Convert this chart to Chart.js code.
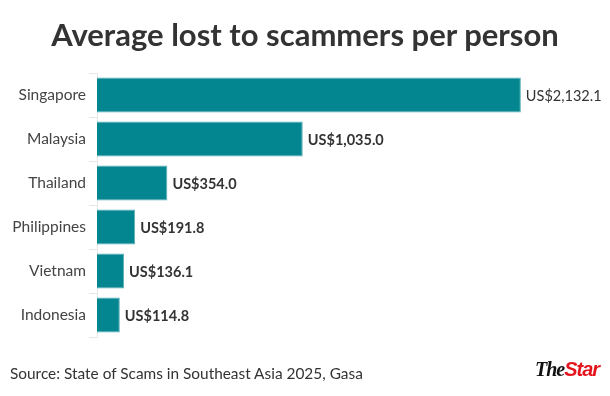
<!DOCTYPE html>
<html>
<head>
<meta charset="utf-8">
<script src="https://cdn.jsdelivr.net/npm/chart.js@4"></script>
<style>
    html, body { margin: 0; padding: 0; background: #fff; }
    #wrap { position: relative; width: 610px; height: 396px; overflow: hidden; }
    #chart { position: absolute; left: 0; top: 0; }
    .title {
        position: absolute; left: 0; top: 15px; width: 610px; text-align: center;
        font-family: Lato, sans-serif; font-weight: bold; font-size: 31px; color: #333;
    }
    .source {
        position: absolute; left: 10px; top: 364px;
        font-family: Lato, sans-serif; font-size: 15.4px; color: #333;
    }
    .logo { position: absolute; left: 535px; top: 358px; font-size: 20px; white-space: nowrap; letter-spacing: -1px; }
    .logo .the { font-family: "Liberation Serif", serif; font-style: italic; font-weight: bold; color: #111; }
    .logo .star { font-family: "Liberation Sans", sans-serif; font-style: italic; font-weight: bold; color: #e3141c; }
</style>
</head>
<body>
<div id="wrap">
    <canvas id="chart" width="610" height="396"></canvas>
    <div class="title">Average lost to scammers per person</div>
    <div class="source">Source: State of Scams in Southeast Asia 2025, Gasa</div>
    <div class="logo"><span class="the">The</span><span class="star">Star</span></div>
</div>
<script>
// data
const countries = ['Singapore', 'Malaysia', 'Thailand', 'Philippines', 'Vietnam', 'Indonesia'];
const lossPerPerson = [2132.1, 1035.0, 354.0, 191.8, 136.1, 114.8];

// draw the "US$..." labels at the end of each bar
const valueLabels = {
    id: 'valueLabels',
    afterDatasetsDraw(chart) {
        const ctx = chart.ctx;
        const meta = chart.getDatasetMeta(0);
        ctx.save();
        ctx.fillStyle = '#333';
        ctx.textBaseline = 'middle';
        meta.data.forEach((bar, i) => {
            const v = lossPerPerson[i];
            const text = 'US$' + v.toLocaleString('en-US', { minimumFractionDigits: 1, maximumFractionDigits: 1 });
            ctx.font = (i === 0 ? '' : 'bold ') + '14.5px Lato, sans-serif';
            ctx.fillText(text, bar.x + 5, bar.y + 1);
        });
        ctx.restore();
    }
};

new Chart(document.getElementById('chart'), {
    type: 'bar',
    data: {
        labels: countries,
        datasets: [{
            data: lossPerPerson,
            backgroundColor: '#048690',
            borderColor: '#5db1b7',
            borderWidth: 1,
            barPercentage: 0.8,
            categoryPercentage: 1.0
        }]
    },
    options: {
        indexAxis: 'y',
        responsive: false,
        animation: false,
        layout: {
            padding: { top: 73, bottom: 59, left: 0, right: 16 }
        },
        scales: {
            x: {
                display: false,
                min: 0,
                max: 2500
            },
            y: {
                afterFit: function(scale) { scale.width = 97; },
                grid: {
                    drawOnChartArea: false,
                    color: '#e8e8e8',
                    tickLength: 8
                },
                border: { color: '#e8e8e8' },
                ticks: {
                    color: '#444',
                    padding: 3,
                    font: { family: 'Lato, sans-serif', size: 15.5 }
                }
            }
        },
        plugins: {
            legend: { display: false },
            tooltip: { enabled: false }
        }
    },
    plugins: [valueLabels]
});
</script>
</body>
</html>
